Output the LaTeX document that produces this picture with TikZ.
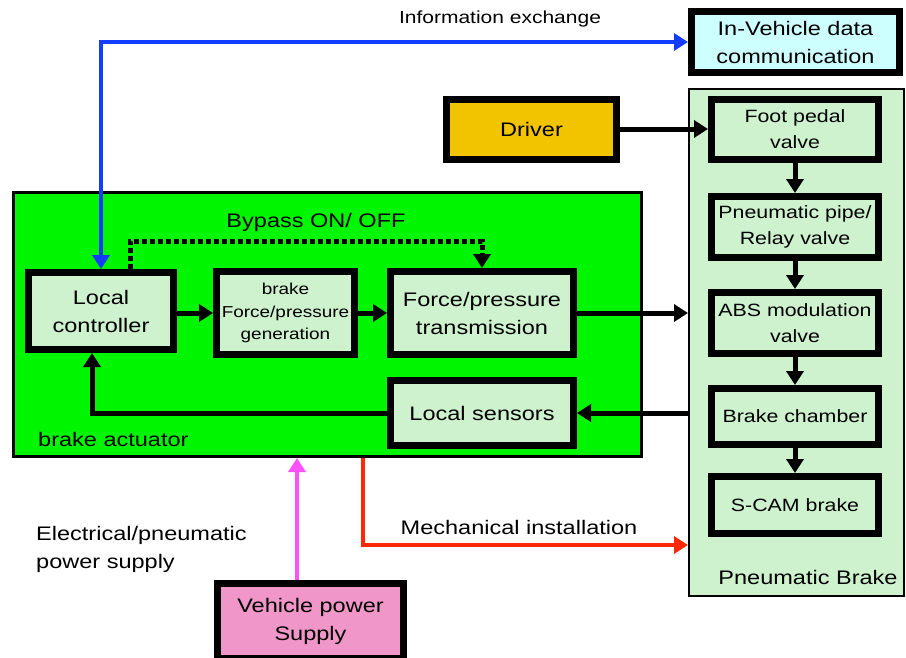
\documentclass[tikz,border=0pt]{standalone}
\usepackage{fontspec}
\setmainfont{Liberation Sans}[FakeStretch=1.2]
\usetikzlibrary{arrows.meta}
\definecolor{actgreen}{RGB}{0,245,0}
\definecolor{boxgreen}{RGB}{206,242,206}
\definecolor{boxcyan}{RGB}{206,255,255}
\definecolor{drvyellow}{RGB}{242,196,0}
\definecolor{pwrpink}{RGB}{240,150,200}
\definecolor{infoblue}{RGB}{20,60,255}
\definecolor{pwrmag}{RGB}{255,80,255}
\definecolor{mechred}{RGB}{255,40,0}
\begin{document}
\begin{tikzpicture}[
        x=1pt, y=-1pt,
        every node/.style={font=\fontsize{19.6}{28}\selectfont, align=center, inner sep=0pt},
        blockn/.style={draw, line width=7pt, fill=boxgreen},
        pneun/.style={blockn, minimum width=167pt, font=\fontsize{17.8}{26}\selectfont},
        flow/.style={line width=5pt, -{Triangle[length=14pt,width=17pt]}},
        dotline/.style={line width=5pt, dash pattern=on 5pt off 3pt, -{Triangle[length=14pt,width=17pt]}},
    ]
    \useasboundingbox (0,0) rectangle (906,657);
    % containers
    \node[draw, line width=3pt, fill=actgreen, minimum width=628pt, minimum height=264pt](act) at (327.5,324.5){};
    \node[draw, line width=2pt, fill=boxgreen, minimum width=215pt, minimum height=507pt](pb) at (796.5,342.5){};
    \node[anchor=west](actlbl) at (38,439){brake actuator};
    \node(pblbl) at (808,577){Pneumatic Brake};
    % brake actuator blocks
    \node[blockn, minimum width=145pt, minimum height=77pt](ctrl) at (101,311){Local\\controller};
    \node[blockn, minimum width=138pt, minimum height=83pt, font=\fontsize{15.8}{22.5}\selectfont](gen) at (285.5,313){brake\\Force/pressure\\generation};
    \node[blockn, minimum width=183pt, minimum height=83pt](trans) at (482,313){Force/pressure\\transmission};
    \node[blockn, minimum width=183pt, minimum height=65pt](sens) at (482,413){Local sensors};
    \node(bplbl) at (316,222){Bypass ON/ OFF};
    % outside blocks
    \node[draw, line width=7pt, fill=boxcyan, minimum width=208pt, minimum height=61pt](ivc) at (795.5,42){In-Vehicle data\\communication};
    \node[draw, line width=7pt, fill=drvyellow, minimum width=170pt, minimum height=60pt](drv) at (531.5,129){Driver};
    \node[draw, line width=7pt, fill=pwrpink, minimum width=186pt, minimum height=75pt](vps) at (310.5,621){Vehicle power\\Supply};
    % pneumatic brake chain
    \node[pneun, minimum height=60pt](foot) at (795,129){Foot pedal\\valve};
    \node[pneun, minimum height=61pt](pipe) at (795,227){Pneumatic pipe/\\Relay valve};
    \node[pneun, minimum height=61pt](abs) at (795,323){ABS modulation\\valve};
    \node[pneun, minimum height=56pt](cham) at (795,416.5){Brake chamber};
    \node[pneun, minimum height=57pt](scam) at (795,505){S-CAM brake};
    % free labels
    \node[font=\fontsize{17.5}{26}\selectfont](infolbl) at (500,19){Information exchange};
    \node(mechlbl) at (519,527){Mechanical installation};
    \node[anchor=west, align=left](elclbl) at (36,549){Electrical/pneumatic\\power supply};
    \coordinate (mi) at (363,545);
    \coordinate (ps) at (297,600);
    % connectors
    \draw[flow] (ctrl.east |- gen) -- (gen);
    \draw[flow] (gen) -- (trans);
    \draw[flow] (trans.east) -- (trans.east -| pb.west);
    \draw[flow] (sens.east -| pb.west) -- (sens.east);
    \draw[flow] (sens.west) -| ([xshift=-9pt]ctrl.south);
    \draw[dotline] ([xshift=29pt]ctrl.north) |- ([yshift=27pt]trans.north) -- (trans.north);
    \draw[flow] (drv) -- (foot);
    \draw[flow] (foot) -- (pipe);
    \draw[flow] (pipe) -- (abs);
    \draw[flow] (abs) -- (cham);
    \draw[flow] (cham) -- (scam);
    \draw[line width=4.5pt, infoblue, {Triangle[length=14pt,width=17pt]}-{Triangle[length=14pt,width=17pt]}] (ctrl.north) |- (ivc.west);
    \draw[line width=4.5pt, mechred, -{Triangle[length=14pt,width=17pt]}] (act.south -| mi) -- (mi) -- (mi -| pb.west);
    \draw[line width=4.5pt, pwrmag, -{Triangle[length=14pt,width=17pt]}] (ps |- vps.north) -- (ps |- act.south);
\end{tikzpicture}
\end{document}
